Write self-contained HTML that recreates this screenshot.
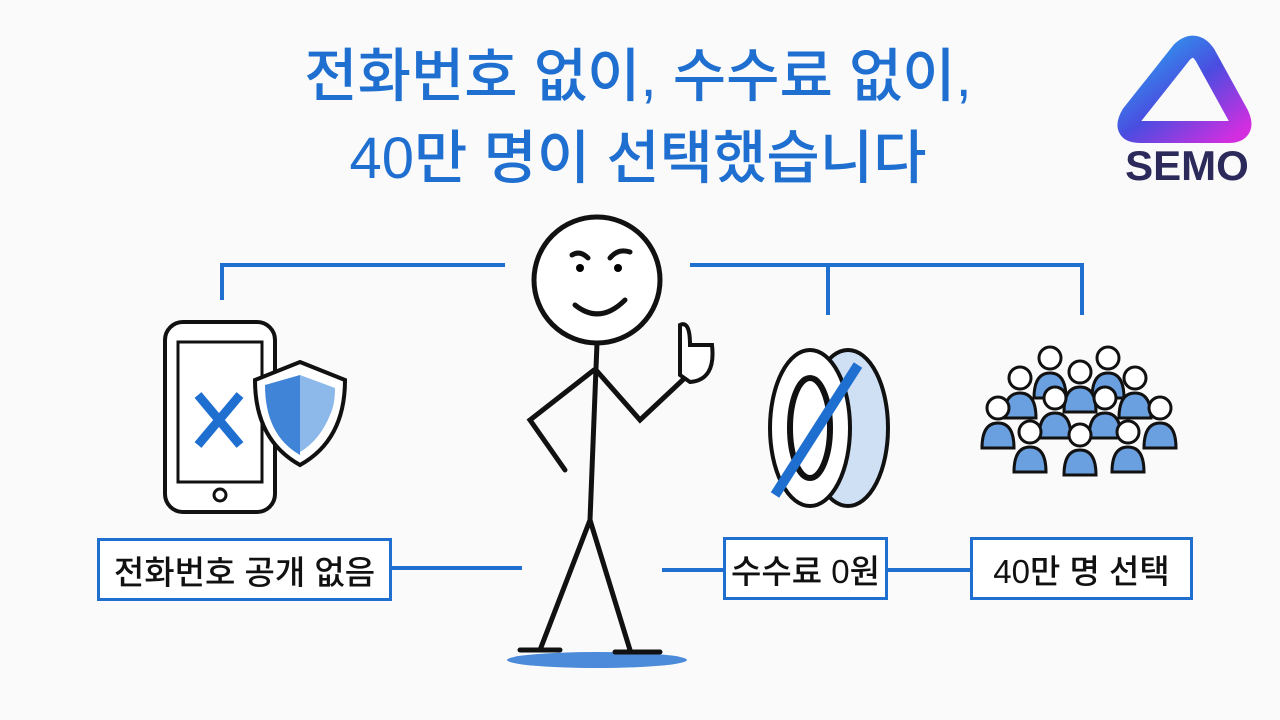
<!DOCTYPE html>
<html><head><meta charset="utf-8"><style>
body{margin:0;width:1280px;height:720px;background:#fafafa;overflow:hidden;position:relative;font-family:"Liberation Sans","Noto Sans CJK KR",sans-serif}
.t{position:absolute;left:0;width:1276px;text-align:center;color:#1f6fd1;font-weight:500;font-size:58px;line-height:70px}
.box{position:absolute;border:3px solid #1f6fd1;background:#fff;box-sizing:border-box;font-size:33px;color:#111;display:flex;align-items:center;justify-content:center;font-weight:500}
</style></head><body>
<div class="t" style="top:42px">전화번호 없이, 수수료 없이,</div>
<div class="t" style="top:124px">40만 명이 선택했습니다</div>
<svg width="1280" height="720" style="position:absolute;left:0;top:0">
<defs><linearGradient id="g" x1="0" y1="0" x2="1" y2="1"><stop offset="0" stop-color="#2aa6f0"/><stop offset="0.5" stop-color="#4a4de0"/><stop offset="1" stop-color="#d22ee0"/></linearGradient>
<g id="p"><circle cx="0" cy="0" r="11"/><path d="M-16 40 Q-16 15 0 15 Q16 15 16 40 Z" fill="#6a9fe0"/></g></defs>
<path d="M1182 52 Q1195 40 1205 55 L1238 115 Q1246 132 1228 132 L1140 132 Q1122 132 1132 115 Z" fill="none" stroke="url(#g)" stroke-width="22" stroke-linejoin="round"/>
<text x="1187" y="180" text-anchor="middle" font-family="Liberation Sans" font-weight="bold" font-size="42" fill="#2b2a5a">SEMO</text>
<g stroke="#1f6fd1" stroke-width="4" fill="none">
<path d="M222 300 V265 H505"/><path d="M690 265 H1082 V315 M828 265 V315"/>
<path d="M392 568 H522 M662 570 H723 M888 570 H970"/>
</g>
<rect x="165" y="322" width="110" height="190" rx="18" fill="#fff" stroke="#111" stroke-width="4"/>
<rect x="178" y="342" width="84" height="140" fill="#fff" stroke="#111" stroke-width="3"/>
<circle cx="220" cy="495" r="6" fill="none" stroke="#111" stroke-width="3"/>
<path d="M198 395 L240 445 M240 395 L198 445" stroke="#1f6fd1" stroke-width="9"/>
<path d="M300 362 L345 380 Q345 440 300 465 Q255 440 255 380 Z" fill="#fff" stroke="#111" stroke-width="4"/>
<path d="M300 375 V455 Q265 435 265 385 Z" fill="#1f6fd1" opacity="0.85"/>
<path d="M300 375 L335 388 Q335 405 330 415 L300 415 Z M300 415 H330 Q320 440 300 452 Z" fill="#8cb8ea"/>
<ellipse cx="848" cy="428" rx="40" ry="78" fill="#cfe0f5" stroke="#111" stroke-width="4"/>
<ellipse cx="810" cy="428" rx="40" ry="78" fill="#fff" stroke="#111" stroke-width="4"/>
<ellipse cx="810" cy="428" rx="20" ry="50" fill="none" stroke="#111" stroke-width="6"/>
<path d="M775 495 L858 365" stroke="#1f6fd1" stroke-width="10"/>
<g fill="#fff" stroke="#111" stroke-width="3">
<use href="#p" x="1050" y="358"/><use href="#p" x="1108" y="358"/><use href="#p" x="1020" y="378"/><use href="#p" x="1080" y="372"/><use href="#p" x="1135" y="378"/>
<use href="#p" x="998" y="408"/><use href="#p" x="1055" y="398"/><use href="#p" x="1105" y="398"/><use href="#p" x="1160" y="408"/>
<use href="#p" x="1030" y="432"/><use href="#p" x="1080" y="435"/><use href="#p" x="1128" y="432"/>
</g>
<ellipse cx="597" cy="660" rx="90" ry="8" fill="#1f6fd1" opacity="0.8"/>
<g stroke="#111" stroke-width="5" fill="none" stroke-linecap="round">
<circle cx="597" cy="280" r="63" fill="#fff"/>
<path d="M597 343 L590 520 L540 650 M590 520 L630 650 M520 650 H560 M615 652 H660"/>
<path d="M594 370 L530 420 L565 470 M596 370 L640 420 L688 375"/>
<path d="M572 255 Q580 250 588 258 M610 258 Q618 248 630 252 M575 305 Q600 325 625 300"/>
<path d="M680 375 L680 325 Q690 320 690 345 L712 345 Q716 380 690 382 Z" fill="#fff" stroke-width="4"/>
</g>
<circle cx="580" cy="268" r="4"/><circle cx="618" cy="268" r="4"/>
</svg>
<div class="box" style="left:97px;top:538px;width:295px;height:63px">전화번호 공개 없음</div>
<div class="box" style="left:723px;top:537px;width:165px;height:63px">수수료 0원</div>
<div class="box" style="left:970px;top:537px;width:223px;height:63px">40만 명 선택</div>
</body></html>
